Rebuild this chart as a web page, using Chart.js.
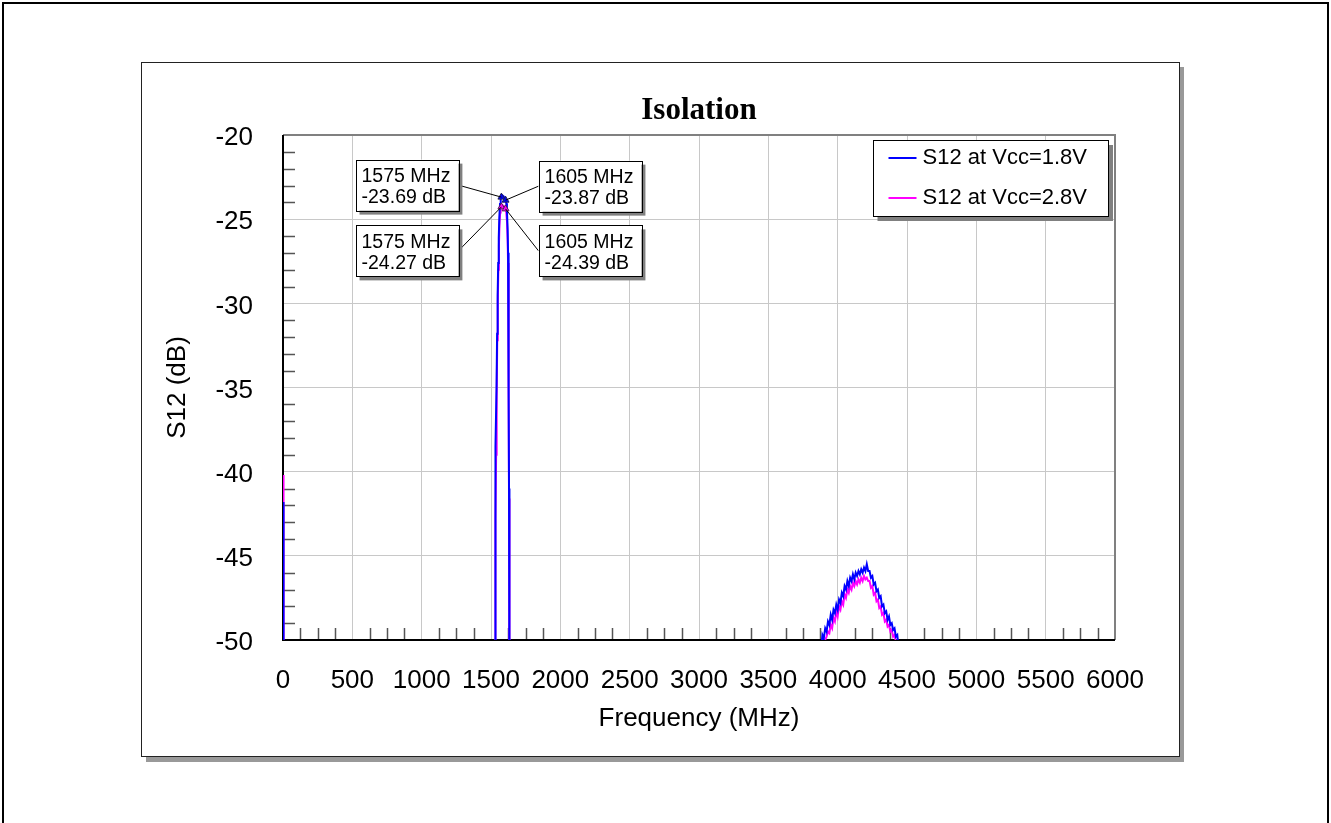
<!DOCTYPE html>
<html>
<head>
<meta charset="utf-8">
<script src="https://cdn.jsdelivr.net/npm/chart.js@4.4.0/dist/chart.umd.min.js"></script>
<style>
body { margin: 0; background: #fff; }
canvas { display: block; }
</style>
</head>
<body>
<canvas id="isolation_graph" width="1331" height="823"></canvas>
<script>
// Line colors
var color18 = '#0000ff'; // S12 at Vcc=1.8V
var color28 = '#ff00ff'; // S12 at Vcc=2.8V

var chartTitle = 'Isolation';
var labels = ['S12 at Vcc=1.8V', 'S12 at Vcc=2.8V'];

// Axis ticks
var xTicks = [0, 500, 1000, 1500, 2000, 2500, 3000, 3500, 4000, 4500, 5000, 5500, 6000];
var yTicks = [-50, -45, -40, -35, -30, -25, -20];

// Spike at the start of the sweep (values below -50 fall off the plot)
var freqSpike = [0, 4];
var s12_18_spike = [-41.8, -60];
var s12_28_spike = [-40.2, -60];

// GPS passband leakage
var freqPass18 = [1500, 1527, 1529, 1530, 1531, 1532, 1536, 1540, 1544, 1548, 1552, 1556, 1560, 1565, 1570, 1575, 1580, 1585, 1590, 1595, 1600, 1605, 1610, 1615, 1620, 1623, 1626, 1628, 1630, 1632, 1634, 1660];
var s12_18_pass = [-60, -56, -50.5, -46, -44.2, -42.0, -38.5, -35.0, -31.8, -29.5, -27.6, -26.1, -24.9, -24.1, -23.8, -23.69, -23.62, -23.6, -23.63, -23.7, -23.78, -23.87, -24.05, -24.5, -25.6, -27.0, -30.0, -35.0, -41.0, -47.5, -54, -60];
var freqPass28 = [1500, 1528, 1530, 1531, 1532, 1533, 1537, 1541, 1545, 1549, 1553, 1557, 1561, 1566, 1570, 1575, 1580, 1585, 1590, 1595, 1600, 1605, 1610, 1615, 1620, 1623, 1626, 1628, 1630, 1632, 1634, 1660];
var s12_28_pass = [-60, -56, -50.5, -45.2, -44.4, -42.8, -39.0, -35.5, -32.2, -29.9, -28.0, -26.6, -25.4, -24.6, -24.35, -24.27, -24.2, -24.18, -24.2, -24.26, -24.32, -24.39, -24.6, -25.1, -26.2, -27.6, -30.6, -35.6, -41.6, -48.0, -54.5, -60];

// Hump around 4.2 GHz
var freqBump18 = [3880, 3890, 3900, 3910, 3920, 3930, 3940, 3950, 3960, 3970, 3980, 3990, 4000, 4010, 4020, 4030, 4040, 4050, 4060, 4070, 4080, 4090, 4100, 4110, 4120, 4130, 4140, 4150, 4160, 4170, 4180, 4190, 4200, 4210, 4220, 4230, 4240, 4250, 4260, 4270, 4280, 4290, 4300, 4310, 4320, 4330, 4340, 4350, 4360, 4370, 4380, 4390, 4400, 4410, 4420, 4430, 4440];
var s12_18_bump = [-50.6, -49.7, -49.9, -49.3, -49.5, -48.9, -49.1, -48.5, -48.8, -48.2, -48.4, -47.9, -48.2, -47.6, -47.8, -47.2, -47.4, -46.8, -47.0, -46.5, -46.8, -46.3, -46.5, -46.1, -46.4, -46.0, -46.2, -45.9, -46.1, -45.8, -46.0, -45.7, -45.9, -45.5, -45.9, -45.9, -46.3, -46.2, -46.7, -46.6, -47.1, -47.0, -47.5, -47.4, -48.0, -47.9, -48.4, -48.3, -48.8, -48.6, -49.1, -49.0, -49.4, -49.3, -49.8, -49.7, -50.5];
var freqBump28 = [3900, 3910, 3920, 3930, 3940, 3950, 3960, 3970, 3980, 3990, 4000, 4010, 4020, 4030, 4040, 4050, 4060, 4070, 4080, 4090, 4100, 4110, 4120, 4130, 4140, 4150, 4160, 4170, 4180, 4190, 4200, 4210, 4220, 4230, 4240, 4250, 4260, 4270, 4280, 4290, 4300, 4310, 4320, 4330, 4340, 4350, 4360, 4370, 4380, 4390, 4400, 4410, 4420, 4430];
var s12_28_bump = [-50.5, -50.0, -49.8, -49.5, -49.6, -49.1, -49.3, -48.7, -48.9, -48.3, -48.6, -48.0, -48.2, -47.7, -47.9, -47.3, -47.5, -47.0, -47.2, -46.8, -47.0, -46.6, -46.8, -46.5, -46.7, -46.4, -46.6, -46.3, -46.5, -46.2, -46.4, -46.3, -46.5, -46.5, -46.9, -46.8, -47.3, -47.2, -47.7, -47.6, -48.1, -48.0, -48.5, -48.4, -48.9, -48.8, -49.2, -49.1, -49.5, -49.4, -49.8, -49.7, -50.1, -50.6];

// End of sweep
var freqTail = [6000];
var s12_18_tail = [-60];
var s12_28_tail = [-60];

// Markers
var markerFreq = [1575, 1605];
var marker18 = [-23.69, -23.87];
var marker28 = [-24.27, -24.39];

// Callout placement relative to its marker (pixels)
var calloutLayout18 = [{dx: -43, dy: -12, side: 'left'}, {dx: 33, dy: -14, side: 'right'}];
var calloutLayout28 = [{dx: -43, dy: 44, side: 'left'}, {dx: 33, dy: 42, side: 'right'}];

function toPoints(freqs, values) {
    return freqs.map(function (f, i) { return {x: f, y: values[i]}; });
}

var s12_18_points = [].concat(
    toPoints(freqSpike, s12_18_spike),
    toPoints(freqPass18, s12_18_pass),
    toPoints(freqBump18, s12_18_bump),
    toPoints(freqTail, s12_18_tail));
var s12_28_points = [].concat(
    toPoints(freqSpike, s12_28_spike),
    toPoints(freqPass28, s12_28_pass),
    toPoints(freqBump28, s12_28_bump),
    toPoints(freqTail, s12_28_tail));

var FONT = 'Liberation Sans';
Chart.defaults.font.family = FONT;
Chart.defaults.color = '#000';

// Page frame, panel with shadow, title, axis box, minor ticks, callouts and legend
var framePlugin = {
    id: 'frame',
    beforeDraw: function (chart) {
        var ctx = chart.ctx, a = chart.chartArea;
        ctx.save();
        ctx.fillStyle = '#fff';
        ctx.fillRect(0, 0, chart.width, chart.height);
        ctx.strokeStyle = '#000';
        ctx.lineWidth = 2;
        ctx.strokeRect(3, 3, 1325, 840);
        ctx.fillStyle = '#999';
        ctx.fillRect(146, 67, 1038, 695);
        ctx.fillStyle = '#fff';
        ctx.fillRect(141, 62, 1039, 695);
        ctx.strokeStyle = '#222';
        ctx.lineWidth = 1;
        ctx.strokeRect(141.5, 62.5, 1038, 694);
        // title centred over the plot area
        ctx.fillStyle = '#000';
        ctx.font = 'bold 31px "Liberation Serif"';
        ctx.textAlign = 'center';
        ctx.textBaseline = 'alphabetic';
        ctx.fillText(chartTitle, (a.left + a.right) / 2, a.top - 16);
        ctx.restore();
    },
    beforeDatasetsDraw: function (chart) {
        var ctx = chart.ctx, a = chart.chartArea;
        var xs = chart.scales.x, ys = chart.scales.y;
        ctx.save();
        // minor ticks
        ctx.strokeStyle = '#555';
        ctx.lineWidth = 1.5;
        ctx.beginPath();
        for (var f = 125; f < 6000; f += 125) {
            if (f % 500 === 0) continue;
            var px = Math.round(xs.getPixelForValue(f)) + 0.5;
            ctx.moveTo(px, a.bottom);
            ctx.lineTo(px, a.bottom - 12);
        }
        for (var d = -49; d < -20; d++) {
            if (d % 5 === 0) continue;
            var py = Math.round(ys.getPixelForValue(d)) + 0.5;
            ctx.moveTo(a.left, py);
            ctx.lineTo(a.left + 12, py);
        }
        ctx.stroke();
        // axis box
        ctx.lineWidth = 2;
        ctx.strokeStyle = '#808080';
        ctx.beginPath();
        ctx.moveTo(a.left, a.top);
        ctx.lineTo(a.right, a.top);
        ctx.lineTo(a.right, a.bottom);
        ctx.stroke();
        ctx.strokeStyle = '#000';
        ctx.beginPath();
        ctx.moveTo(a.left, a.top);
        ctx.lineTo(a.left, a.bottom);
        ctx.lineTo(a.right, a.bottom);
        ctx.stroke();
        ctx.restore();
    },
    afterDatasetsDraw: function (chart) {
        var ctx = chart.ctx, a = chart.chartArea;
        var xs = chart.scales.x, ys = chart.scales.y;
        ctx.save();

        // marker callouts
        function callout(f, v, lay) {
            var px = xs.getPixelForValue(f), py = ys.getPixelForValue(v);
            var line1 = f + ' MHz', line2 = v.toFixed(2) + ' dB';
            ctx.font = '19.5px ' + FONT;
            var w = Math.max(ctx.measureText(line1).width, ctx.measureText(line2).width) + 14;
            var h = 51;
            var x0 = lay.side === 'left' ? px + lay.dx - w : px + lay.dx;
            var y0 = py + lay.dy - h / 2;
            var ex = lay.side === 'left' ? x0 + w : x0;
            ctx.strokeStyle = '#000';
            ctx.lineWidth = 1;
            ctx.beginPath();
            ctx.moveTo(ex, y0 + h / 2);
            ctx.lineTo(px, py);
            ctx.stroke();
            ctx.fillStyle = '#808080';
            ctx.fillRect(x0 + 4, y0 + 4, w, h);
            ctx.fillStyle = '#fff';
            ctx.fillRect(x0, y0, w, h);
            ctx.strokeRect(Math.round(x0) + 0.5, Math.round(y0) + 0.5, Math.round(w), Math.round(h));
            ctx.fillStyle = '#000';
            ctx.textBaseline = 'middle';
            ctx.textAlign = 'left';
            ctx.fillText(line1, x0 + 6, y0 + 17);
            ctx.fillText(line2, x0 + 6, y0 + 38);
        }
        markerFreq.forEach(function (f, i) {
            callout(f, marker18[i], calloutLayout18[i]);
            callout(f, marker28[i], calloutLayout28[i]);
        });

        // legend
        ctx.font = '22px ' + FONT;
        var tw = Math.max(ctx.measureText(labels[0]).width, ctx.measureText(labels[1]).width);
        var lw = tw + 71, lh = 76;
        var lx = a.right - 7 - lw, ly = a.top + 5;
        ctx.fillStyle = '#808080';
        ctx.fillRect(lx + 5, ly + 5, lw, lh);
        ctx.fillStyle = '#fff';
        ctx.fillRect(lx, ly, lw, lh);
        ctx.strokeStyle = '#000';
        ctx.lineWidth = 1;
        ctx.strokeRect(Math.round(lx) + 0.5, ly + 0.5, Math.round(lw), lh);
        [color18, color28].forEach(function (c, i) {
            var yy = ly + 18 + i * 40;
            ctx.strokeStyle = c;
            ctx.lineWidth = 2;
            ctx.beginPath();
            ctx.moveTo(lx + 16, yy);
            ctx.lineTo(lx + 44, yy);
            ctx.stroke();
            ctx.fillStyle = '#000';
            ctx.textBaseline = 'middle';
            ctx.textAlign = 'left';
            ctx.fillText(labels[i], lx + 50, yy);
        });
        ctx.restore();
    }
};

var isolation_graph = new Chart(document.getElementById('isolation_graph').getContext('2d'), {
    type: 'line',
    data: {
        datasets: [{
            label: 'Markers 1.8V',
            data: toPoints(markerFreq, marker18),
            showLine: false,
            pointStyle: 'triangle',
            pointRadius: 4,
            backgroundColor: color18,
            borderColor: '#202050',
            borderWidth: 1
        },
        {
            label: 'Markers 2.8V',
            data: toPoints(markerFreq, marker28),
            showLine: false,
            pointStyle: 'triangle',
            pointRadius: 4,
            backgroundColor: color28,
            borderColor: '#502050',
            borderWidth: 1
        },
        {
            label: labels[0],
            data: s12_18_points,
            borderColor: color18,
            borderWidth: 2,
            pointRadius: 0,
            tension: 0,
            fill: false
        },
        {
            label: labels[1],
            data: s12_28_points,
            borderColor: color28,
            borderWidth: 2,
            pointRadius: 0,
            tension: 0,
            fill: false
        }]
    },
    options: {
        responsive: false,
        animation: false,
        events: [],
        layout: { padding: { left: 150, right: 216, top: 135, bottom: 89 } },
        plugins: {
            legend: { display: false },
            tooltip: { enabled: false },
            title: { display: false }
        },
        scales: {
            x: {
                type: 'linear',
                min: 0,
                max: 6000,
                afterBuildTicks: function (axis) { axis.ticks = xTicks.map(function (v) { return {value: v}; }); },
                afterFit: function (axis) { axis.height = 94; },
                grid: { color: '#c8c8c8', lineWidth: 1, drawTicks: false },
                border: { display: false },
                ticks: {
                    autoSkip: false,
                    maxRotation: 0,
                    padding: 25,
                    font: { size: 26 },
                    callback: function (v) { return String(v); }
                },
                title: {
                    display: true,
                    text: 'Frequency (MHz)',
                    font: { size: 26 },
                    padding: { top: 0, bottom: 0 }
                }
            },
            y: {
                type: 'linear',
                min: -50,
                max: -20,
                afterBuildTicks: function (axis) { axis.ticks = yTicks.map(function (v) { return {value: v}; }); },
                afterFit: function (axis) { axis.width = 133; },
                grid: { color: '#c8c8c8', lineWidth: 1, drawTicks: false },
                border: { display: false },
                ticks: {
                    padding: 30,
                    labelOffset: 3,
                    font: { size: 26 },
                    callback: function (v) { return String(v); }
                },
                title: {
                    display: true,
                    text: 'S12 (dB)',
                    font: { size: 26 },
                    padding: { top: 12, bottom: 0 }
                }
            }
        }
    },
    plugins: [framePlugin]
});
</script>
</body>
</html>
